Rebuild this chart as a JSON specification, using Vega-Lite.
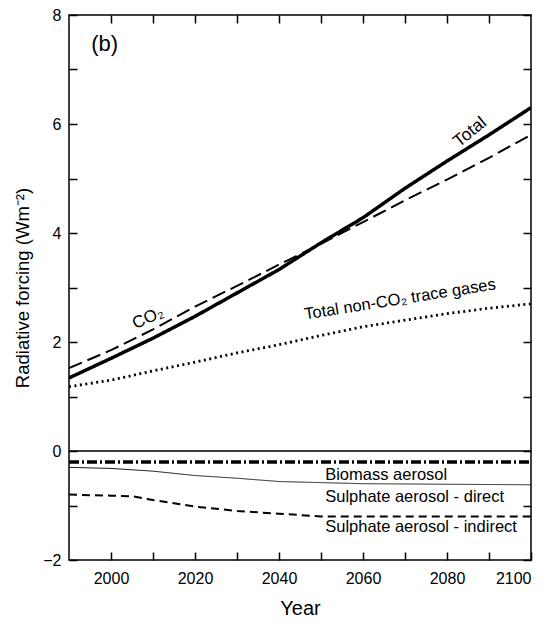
{
  "$schema": "https://vega.github.io/schema/vega-lite/v6.json",
  "width": 462,
  "height": 545,
  "autosize": {"type": "none"},
  "padding": {"left": 69, "top": 15, "right": 28, "bottom": 62},
  "background": "white",
  "config": {
    "view": {"stroke": "black", "strokeWidth": 1.5, "fill": null},
    "font": "Liberation Sans",
    "axis": {
      "domain": false,
      "offset": -8,
      "ticks": true,
      "tickColor": "black",
      "tickWidth": 1.5,
      "tickSize": 8,
      "tickRound": true,
      "grid": false,
      "labelColor": "black",
      "titleColor": "black",
      "labelFont": "Liberation Sans",
      "titleFont": "Liberation Sans",
      "titleFontWeight": "normal"
    }
  },
  "datasets": {
    "series": [
      {"year": 1990, "value": 1.34, "series": "Total"},
      {"year": 2000, "value": 1.7, "series": "Total"},
      {"year": 2010, "value": 2.07, "series": "Total"},
      {"year": 2020, "value": 2.47, "series": "Total"},
      {"year": 2030, "value": 2.9, "series": "Total"},
      {"year": 2040, "value": 3.33, "series": "Total"},
      {"year": 2050, "value": 3.82, "series": "Total"},
      {"year": 2060, "value": 4.28, "series": "Total"},
      {"year": 2070, "value": 4.82, "series": "Total"},
      {"year": 2080, "value": 5.32, "series": "Total"},
      {"year": 2090, "value": 5.8, "series": "Total"},
      {"year": 2100, "value": 6.3, "series": "Total"},
      {"year": 1990, "value": 1.52, "series": "CO2"},
      {"year": 2000, "value": 1.85, "series": "CO2"},
      {"year": 2010, "value": 2.23, "series": "CO2"},
      {"year": 2020, "value": 2.65, "series": "CO2"},
      {"year": 2030, "value": 3.03, "series": "CO2"},
      {"year": 2040, "value": 3.42, "series": "CO2"},
      {"year": 2050, "value": 3.8, "series": "CO2"},
      {"year": 2060, "value": 4.2, "series": "CO2"},
      {"year": 2070, "value": 4.6, "series": "CO2"},
      {"year": 2080, "value": 4.98, "series": "CO2"},
      {"year": 2090, "value": 5.38, "series": "CO2"},
      {"year": 2100, "value": 5.8, "series": "CO2"},
      {"year": 1990, "value": 1.18, "series": "Non-CO2"},
      {"year": 2000, "value": 1.3, "series": "Non-CO2"},
      {"year": 2010, "value": 1.47, "series": "Non-CO2"},
      {"year": 2020, "value": 1.63, "series": "Non-CO2"},
      {"year": 2030, "value": 1.8, "series": "Non-CO2"},
      {"year": 2040, "value": 1.95, "series": "Non-CO2"},
      {"year": 2050, "value": 2.12, "series": "Non-CO2"},
      {"year": 2060, "value": 2.28, "series": "Non-CO2"},
      {"year": 2070, "value": 2.4, "series": "Non-CO2"},
      {"year": 2080, "value": 2.52, "series": "Non-CO2"},
      {"year": 2090, "value": 2.62, "series": "Non-CO2"},
      {"year": 2100, "value": 2.7, "series": "Non-CO2"},
      {"year": 1990, "value": -0.2, "series": "Biomass"},
      {"year": 2100, "value": -0.2, "series": "Biomass"},
      {"year": 1990, "value": -0.3, "series": "Direct"},
      {"year": 2000, "value": -0.32, "series": "Direct"},
      {"year": 2010, "value": -0.37, "series": "Direct"},
      {"year": 2020, "value": -0.45, "series": "Direct"},
      {"year": 2030, "value": -0.5, "series": "Direct"},
      {"year": 2040, "value": -0.56, "series": "Direct"},
      {"year": 2050, "value": -0.58, "series": "Direct"},
      {"year": 2060, "value": -0.6, "series": "Direct"},
      {"year": 2100, "value": -0.62, "series": "Direct"},
      {"year": 1990, "value": -0.8, "series": "Indirect"},
      {"year": 2000, "value": -0.82, "series": "Indirect"},
      {"year": 2005, "value": -0.83, "series": "Indirect"},
      {"year": 2010, "value": -0.9, "series": "Indirect"},
      {"year": 2020, "value": -1.02, "series": "Indirect"},
      {"year": 2030, "value": -1.1, "series": "Indirect"},
      {"year": 2040, "value": -1.15, "series": "Indirect"},
      {"year": 2050, "value": -1.2, "series": "Indirect"},
      {"year": 2100, "value": -1.2, "series": "Indirect"},
      {"year": 1990, "value": 0, "series": "Zero"},
      {"year": 2100, "value": 0, "series": "Zero"}
    ],
    "flatLabels": [
      {"year": 1995.3, "value": 7.46, "text": "(b)", "size": "big"},
      {"year": 2051, "value": -0.44, "text": "Biomass aerosol", "size": "small"},
      {"year": 2051, "value": -0.85, "text": "Sulphate aerosol - direct", "size": "small"},
      {"year": 2051, "value": -1.4, "text": "Sulphate aerosol - indirect", "size": "small"}
    ]
  },
  "layer": [
    {
      "data": {"name": "series"},
      "mark": {"type": "line", "color": "black", "strokeCap": "butt", "clip": true},
      "encoding": {
        "x": {
          "field": "year", "type": "quantitative",
          "scale": {"domain": [1990, 2100], "nice": false, "zero": false},
          "axis": {
            "orient": "bottom",
            "ticks": true,
            "tickSize": 8,
            "values": [2000, 2010, 2020, 2030, 2040, 2050, 2060, 2070, 2080, 2090, 2100],
            "labelExpr": "datum.value % 20 == 0 ? datum.label : ''",
            "format": "d",
            "labelFontSize": 16,
            "labelPadding": 10,
            "labelOverlap": false,
            "title": "Year",
            "titleFontSize": 20,
            "titlePadding": 12
          }
        },
        "y": {
          "field": "value", "type": "quantitative",
          "scale": {"domain": [-2, 8], "nice": false},
          "axis": {
            "orient": "left",
            "ticks": true,
            "tickSize": 8,
            "values": [-2, -1, 0, 1, 2, 3, 4, 5, 6, 7, 8],
            "labelExpr": "datum.value % 2 == 0 ? datum.label : ''",
            "labelFontSize": 16,
            "labelPadding": 8,
            "labelOverlap": false,
            "title": "Radiative forcing (Wm⁻²)",
            "titleFontSize": 18.5,
            "titlePadding": 10
          }
        },
        "detail": {"field": "series"},
        "strokeWidth": {
          "field": "series", "type": "nominal", "legend": null,
          "scale": {
            "type": "ordinal",
            "domain": ["Total", "CO2", "Non-CO2", "Biomass", "Direct", "Indirect", "Zero"],
            "range": [3.5, 2, 2.8, 3.5, 0.9, 2, 1]
          }
        },
        "strokeDash": {
          "field": "series", "type": "nominal", "legend": null,
          "scale": {
            "domain": ["Total", "CO2", "Non-CO2", "Biomass", "Direct", "Indirect", "Zero"],
            "range": [[1, 0], [14, 6], [2, 3.5], [10, 3, 2, 3], [1, 0], [8, 5], [1, 0]]
          }
        }
      }
    },
    {
      "data": {"name": "series"},
      "transform": [{"filter": "datum.series == 'Zero'"}],
      "mark": {"type": "line", "color": "black", "strokeWidth": 1},
      "encoding": {
        "x": {
          "field": "year", "type": "quantitative",
          "axis": {
            "orient": "top",
            "ticks": true,
            "tickSize": 8,
            "values": [2000, 2010, 2020, 2030, 2040, 2050, 2060, 2070, 2080, 2090],
            "labels": false,
            "title": null
          }
        },
        "y": {
          "field": "value", "type": "quantitative",
          "axis": {
            "orient": "right",
            "ticks": true,
            "tickSize": 8,
            "values": [-2, -1, 0, 1, 2, 3, 4, 5, 6, 7, 8],
            "labels": false,
            "title": null
          }
        }
      }
    },
    {
      "data": {"name": "flatLabels"},
      "mark": {"type": "text", "align": "left", "baseline": "middle", "color": "black"},
      "encoding": {
        "x": {"field": "year", "type": "quantitative", "axis": null},
        "y": {"field": "value", "type": "quantitative", "axis": null},
        "text": {"field": "text"},
        "size": {
          "field": "size", "type": "nominal", "legend": null,
          "scale": {"domain": ["big", "small"], "range": [22, 16.5]}
        }
      }
    },
    {
      "data": {"values": [{"year": 2008.8, "value": 2.44, "text": "CO₂"}]},
      "mark": {"type": "text", "angle": 335, "fontSize": 17, "color": "black", "baseline": "middle"},
      "encoding": {
        "x": {"field": "year", "type": "quantitative", "axis": null},
        "y": {"field": "value", "type": "quantitative", "axis": null},
        "text": {"field": "text"}
      }
    },
    {
      "data": {"values": [{"year": 2085.5, "value": 5.85, "text": "Total"}]},
      "mark": {"type": "text", "angle": 321, "fontSize": 17.5, "color": "black", "baseline": "middle"},
      "encoding": {
        "x": {"field": "year", "type": "quantitative", "axis": null},
        "y": {"field": "value", "type": "quantitative", "axis": null},
        "text": {"field": "text"}
      }
    },
    {
      "data": {"values": [{"year": 2068.8, "value": 2.78, "text": "Total non-CO₂ trace gases"}]},
      "mark": {"type": "text", "angle": 351, "fontSize": 16.5, "color": "black", "baseline": "middle"},
      "encoding": {
        "x": {"field": "year", "type": "quantitative", "axis": null},
        "y": {"field": "value", "type": "quantitative", "axis": null},
        "text": {"field": "text"}
      }
    }
  ],
  "resolve": {"axis": {"x": "independent", "y": "independent"}}
}
